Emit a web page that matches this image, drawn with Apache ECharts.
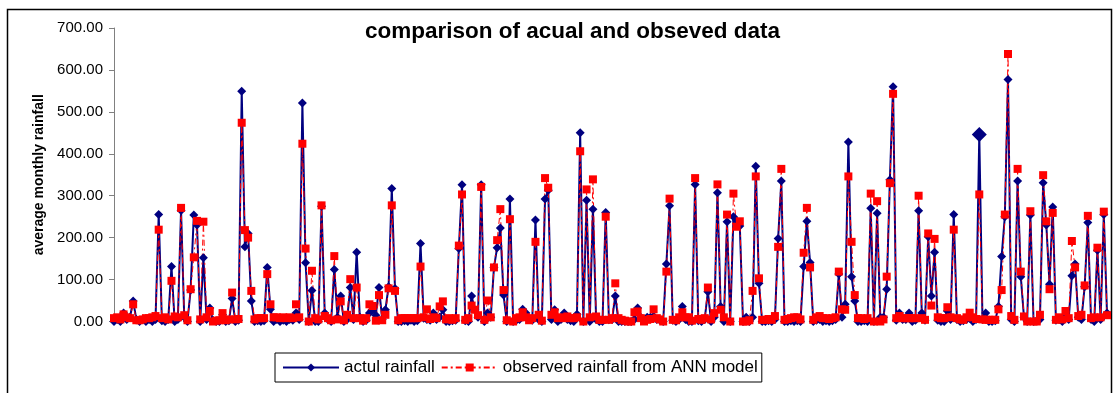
<!DOCTYPE html>
<html>
<head>
<meta charset="utf-8">
<script src="https://cdn.jsdelivr.net/npm/echarts@6/dist/echarts.min.js"></script>
<style>
  html, body { margin: 0; padding: 0; background: #fff; }
  #chart { width: 1117px; height: 393px; }
</style>
</head>
<body>
<div id="chart"></div>
<script>
// monthly values, left to right
const actual = [
  0, 5, 0, 20, 5, 10, 49, 5, 0, 5,
  0, 5, 0, 5, 255, 2, 0, 5, 131, 0,
  5, 265, 10, 0, 75, 254, 230, 0, 152, 5,
  32, 3, 0, 0, 16, 0, 2, 55, 0, 3,
  549, 178, 210, 49, 0, 2, 0, 2, 129, 29,
  0, 5, 0, 3, 0, 5, 3, 20, 5, 521,
  140, 0, 74, 0, 0, 275, 20, 5, 0, 124,
  10, 61, 0, 5, 81, 5, 165, 10, 0, 3,
  20, 28, 15, 81, 5, 28, 83, 317, 79, 0,
  0, 2, 0, 3, 0, 2, 186, 8, 5, 3,
  20, 5, 10, 28, 0, 0, 2, 3, 174, 326,
  2, 0, 61, 28, 10, 326, 0, 20, 10, 129,
  176, 223, 63, 0, 292, 0, 3, 5, 29, 20,
  5, 3, 242, 5, 0, 292, 313, 5, 28, 0,
  5, 20, 5, 2, 0, 17, 450, 0, 289, 0,
  268, 5, 0, 0, 260, 4, 5, 61, 0, 0,
  0, 0, 0, 5, 32, 10, 5, 10, 10, 12,
  5, 3, 0, 137, 276, 3, 0, 5, 36, 5,
  0, 0, 327, 2, 0, 5, 71, 0, 10, 307,
  36, 0, 238, 0, 250, 240, 228, 0, 10, 0,
  10, 370, 91, 0, 0, 2, 0, 5, 198, 335,
  0, 0, 2, 0, 2, 0, 131, 239, 141, 0,
  3, 5, 0, 2, 0, 2, 5, 113, 10, 41,
  428, 107, 49, 0, 0, 2, 0, 270, 0, 258,
  10, 10, 77, 338, 560, 3, 20, 5, 5, 20,
  0, 3, 264, 20, 3, 202, 61, 165, 3, 0,
  0, 25, 5, 255, 5, 0, 2, 5, 8, 0,
  5, 446, 5, 20, 0, 0, 2, 36, 155, 250,
  577, 5, 0, 335, 107, 10, 0, 254, 0, 2,
  5, 331, 230, 89, 273, 3, 5, 0, 10, 5,
  109, 137, 10, 5, 83, 236, 5, 0, 170, 5,
  255, 20
];

const observed = [
  8, 10, 5, 17, 10, 8, 41, 3, 3, 5,
  8, 8, 10, 13, 219, 8, 10, 5, 97, 12,
  10, 271, 15, 3, 77, 153, 240, 5, 238, 10,
  25, 0, 2, 3, 20, 3, 5, 69, 5, 6,
  474, 218, 200, 73, 5, 8, 8, 8, 113, 41,
  10, 10, 8, 10, 8, 10, 8, 41, 10, 424,
  174, 0, 121, 8, 5, 277, 13, 8, 3, 156,
  5, 48, 3, 16, 101, 8, 81, 8, 2, 8,
  41, 37, 2, 63, 3, 16, 79, 277, 73, 3,
  8, 8, 8, 8, 8, 8, 131, 10, 29, 6,
  10, 8, 36, 48, 5, 8, 4, 8, 181, 303,
  4, 8, 38, 28, 15, 321, 4, 50, 10, 129,
  194, 268, 75, 3, 244, 0, 8, 10, 22, 10,
  3, 8, 190, 16, 2, 342, 319, 16, 22, 8,
  10, 8, 12, 8, 8, 10, 406, 0, 315, 10,
  339, 12, 4, 4, 250, 4, 8, 91, 8, 4,
  2, 0, 0, 22, 24, 8, 0, 4, 6, 29,
  8, 5, 0, 119, 293, 4, 3, 10, 22, 10,
  10, 2, 342, 6, 4, 8, 81, 5, 20, 327,
  28, 10, 255, 0, 305, 226, 239, 0, 0, 3,
  73, 346, 103, 4, 4, 6, 4, 13, 178, 364,
  4, 6, 8, 10, 10, 5, 164, 271, 129, 4,
  10, 13, 8, 8, 6, 8, 10, 119, 29, 28,
  346, 190, 63, 8, 8, 6, 8, 305, 0, 287,
  0, 5, 107, 330, 543, 8, 13, 8, 8, 8,
  8, 8, 300, 8, 4, 210, 38, 197, 10, 8,
  8, 34, 10, 219, 8, 5, 4, 10, 21, 10,
  6, 303, 5, 4, 4, 4, 4, 29, 75, 255,
  638, 13, 4, 364, 119, 12, 0, 263, 0, 0,
  16, 349, 239, 77, 259, 4, 10, 5, 25, 8,
  192, 129, 13, 16, 86, 252, 8, 10, 176, 10,
  262, 15
];

// one point drawn with an enlarged marker in the original
const bigMarkerIndex = 271;

const months = actual.map((_, i) => String(i + 1));
const font = '"Liberation Sans", Arial, sans-serif';

const chart = echarts.init(document.getElementById('chart'), null, { renderer: 'canvas' });
chart.setOption({
  animation: false,
  backgroundColor: '#fff',
  title: {
    text: 'comparison of acual and obseved data',
    left: 360,
    top: 15,
    textStyle: { fontFamily: font, fontSize: 22.5, fontWeight: 'bold', color: '#000' },
  },
  legend: {
    left: 275,
    top: 353,
    padding: [6, 4, 6, 7],
    itemGap: 6,
    itemWidth: 56,
    itemHeight: 10,
    borderColor: '#000',
    borderWidth: 1,
    borderRadius: 0,
    textStyle: { fontFamily: font, fontSize: 17, color: '#000' },
  },
  grid: { left: 114, right: 10, top: 28, bottom: 71.5 },
  xAxis: {
    type: 'category',
    data: months,
    boundaryGap: false,
    axisLine: { show: false },
    axisTick: { show: false },
    axisLabel: { show: false },
    splitLine: { show: false },
  },
  yAxis: {
    type: 'value',
    min: 0,
    max: 700,
    interval: 100,
    name: 'average monthly rainfall',
    nameLocation: 'middle',
    nameGap: 68,
    nameTextStyle: { fontFamily: font, fontSize: 14, fontWeight: 'bold', color: '#000' },
    axisLine: { show: true, lineStyle: { color: '#808080', width: 1 } },
    axisTick: { show: true, length: 5, lineStyle: { color: '#808080' } },
    axisLabel: { margin: 11, fontFamily: font, fontSize: 15, color: '#000', formatter: v => v.toFixed(2) },
    splitLine: { show: false },
  },
  graphic: [{
    type: 'rect',
    silent: true,
    z: -1,
    shape: { x: 7.5, y: 9.5, width: 1104, height: 420 },
    style: { fill: 'transparent', stroke: '#000', lineWidth: 1.5 },
  }],
  series: [
    {
      name: 'actul rainfall',
      type: 'line',
      data: actual,
      symbol: 'diamond',
      symbolSize: (v, p) => (p.dataIndex === bigMarkerIndex ? 15 : 9),
      showAllSymbol: true,
      color: '#000080',
      lineStyle: { color: '#000080', width: 2 },
      itemStyle: { color: '#000080' },
    },
    {
      name: 'observed rainfall from ANN model',
      type: 'line',
      data: observed,
      symbol: 'rect',
      symbolSize: 8,
      showAllSymbol: true,
      color: '#ff0000',
      lineStyle: { color: '#ff0000', width: 1, type: [6, 3, 2, 3] },
      itemStyle: { color: '#ff0000' },
    },
  ],
});
</script>
</body>
</html>
